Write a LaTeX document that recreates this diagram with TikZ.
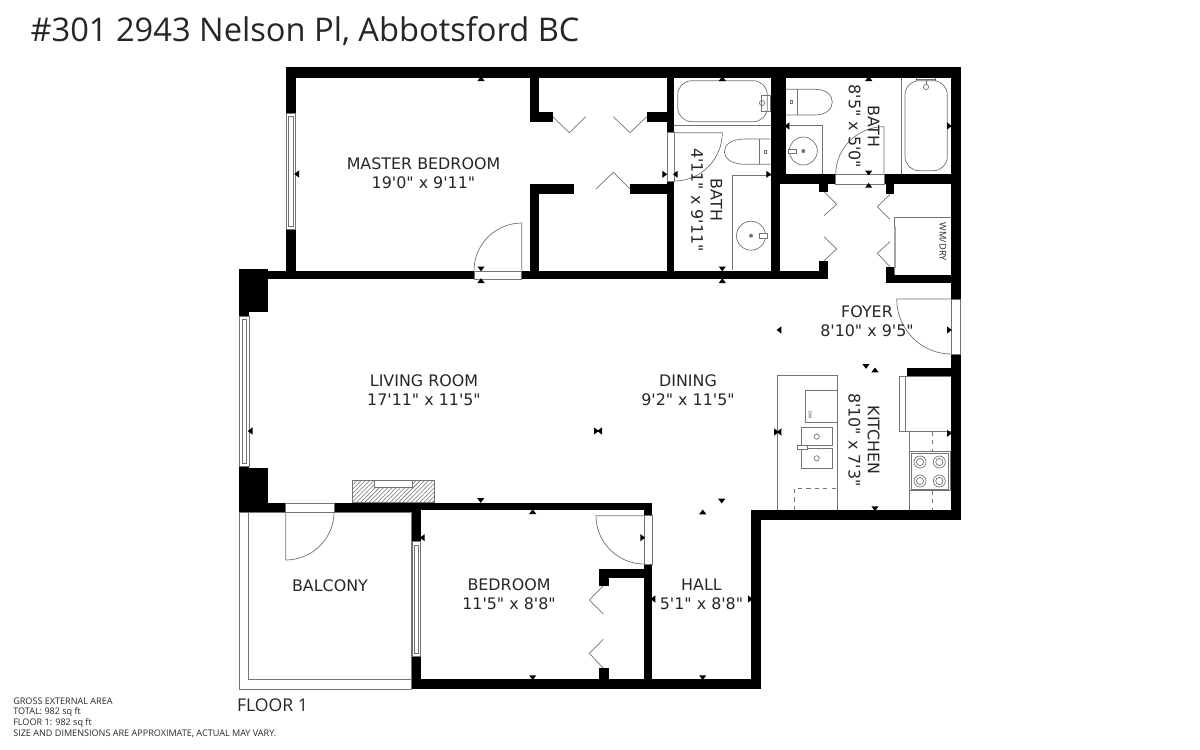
\documentclass[tikz,border=0pt]{standalone}
\usepackage{fontspec}
\usepackage{tikz}
\usetikzlibrary{patterns}
\setmainfont{Open Sans}
\newfontfamily\roomfont{DejaVu Sans}
\definecolor{fixgray}{gray}{0.45}
\tikzset{
  wall/.style={fill=black},
  fixture/.style={draw=fixgray,line width=.5pt},
  room/.style={font=\roomfont\fontsize{11.3}{13.6}\selectfont,align=center,text=black!85,inner sep=0pt},
  tinylabel/.style={font=\fontsize{6.45}{7.8}\selectfont,text=black!85,inner sep=0pt,anchor=west},
}
% small dimension mark: x, y, direction
\newcommand{\dimtick}[3]{\fill[black,shift={(#1,#2)},rotate=#3] (-3.6,-2) -- (3.6,-2) -- (0,2.8) -- cycle;}
\begin{document}
\begin{tikzpicture}[x=0.025cm,y=-0.025cm]
  \useasboundingbox (0,0) rectangle (1200,749);

  \node[font=\fontsize{23.2}{26}\selectfont,text=black!85,inner sep=0pt] (title) at (305,31) {\#301 2943 Nelson Pl, Abbotsford BC};

  % balcony
  \draw[fixture] (239.3,512) rectangle (411.7,689);
  \draw[fixture] (248.7,512) -- (248.7,679) -- (411.7,679);

  % fixtures first, walls go on top
  \begin{scope}[fixture]
    % upper bath, tub and toilet
    \draw[rounded corners=10pt] (677.7,80.7) rectangle (767.3,121.7);
    \draw (674.3,125) -- (770.7,125);
    \draw (761,95) rectangle (770.7,111);
    \draw (762,103) circle (2.6);
    \draw (770.7,139) -- (745,139) .. controls (731,139) and (724.3,145) .. (724.3,151.7) .. controls (724.3,158) and (731,164.3) .. (745,164.3) -- (770.7,164.3);
    \draw (759,139) -- (759,164.3);
    \draw (764,150) rectangle (766,153.4);
    \draw (770.7,175.7) -- (732.3,175.7) -- (732.3,270);
    \draw (751,235.7) circle (14.5);
    \fill[fixgray] (751,235.7) circle (2);
    \draw[fill=white] (759,233) rectangle (767,238);

    % right bath
    \draw (786,89.3) -- (815,89.3) .. controls (826,89.3) and (832.3,95) .. (832.3,102) .. controls (832.3,109) and (826,115) .. (815,115) -- (786,115);
    \draw (797.7,89.3) -- (797.7,115);
    \draw (790.7,100) rectangle (792.7,103.4);
    \draw (786,125) -- (822.3,125) -- (822.3,174.3);
    \draw (803.3,151) circle (14);
    \fill[fixgray] (803.3,151) circle (2);
    \draw[fill=white] (788,149) rectangle (796.7,153);
    \draw (901.7,77) -- (901.7,174.3);
    \draw[rounded corners=10pt] (905,80.7) rectangle (947.3,170.7);
    \draw (916.7,76) -- (916.7,80.7) (935.7,76) -- (935.7,80.7) (916.7,79) -- (935.7,79);
    \draw (926,79) -- (926,85);
    \draw (926,87) circle (2.6);

    % washer and dryer
    \draw (894,275) -- (894,217.3) -- (951,217.3);
    \draw[line width=1pt,gray!70] (895,226) -- (895,268);
    \node[font=\fontsize{6.6}{8}\selectfont,rotate=-90,inner sep=0pt,text=black!85] (wmdry) at (943,242) {WM/DRY};

    % kitchen
    \draw (777.7,510) -- (777.7,375) -- (837.7,375) -- (837.7,510);
    \draw (837.7,390) -- (805.7,390) -- (805.7,422.7) -- (837.7,422.7);
    \draw[line width=1pt] (837.7,390) -- (837.7,417);
    \node[font=\fontsize{3}{4}\selectfont,rotate=-90,inner sep=0pt,text=black!85] (dwlabel) at (810,415) {DW};
    \draw (801,427.3) rectangle (832,445.7);
    \draw (801,448.3) rectangle (832,468.3);
    \draw (816.7,436.7) circle (2.6);
    \draw (816.7,458.3) circle (2.6);
    \draw[fill=white] (797.3,445) rectangle (807.3,449.3);
    \draw[dashed] (794.3,510) -- (794.3,488.3) -- (837.7,488.3);
    \draw (899.3,376) rectangle (951,431.7);
    \draw (905,376) -- (905,431.7);
    \draw (909,431.7) -- (909,510);
    \draw[dashed] (932.3,431.7) -- (932.3,510);
    \draw[fill=white] (909.3,451.7) rectangle (950,490.7);
    \draw (911,453.4) rectangle (948.3,489);
    \draw (920,462) circle (6) (920,462) circle (3.6);
    \draw (939.3,462) circle (6) (939.3,462) circle (3.6);
    \draw (920,481) circle (6) (920,481) circle (3.6);
    \draw (939.3,481) circle (6) (939.3,481) circle (3.6);

    % fireplace
    \draw[pattern=north east lines,pattern color=fixgray] (352.3,480) rectangle (434.3,502.7);
    \draw[fill=white] (374.3,480) rectangle (412.7,487.3);

    % bifold doors
    \draw (552.7,116.7) -- (569.3,132.7) -- (585.7,116.7);
    \draw (613.3,116.7) -- (630,132.7) -- (646.7,116.7);
    \draw (596,189) -- (613.3,172.3) -- (630,189);
    \draw (824,191.7) -- (836.7,204.3) -- (824,215.7);
    \draw (824,236.7) -- (836.7,249) -- (824,260.7);
    \draw (890,194.3) -- (877.3,206.7) -- (890,219.3);
    \draw (890,241.7) -- (877.3,253.3) -- (890,266.7);
    \draw (603.3,585.7) -- (589.3,600) -- (603.3,614);
    \draw (603.3,639.3) -- (589.3,653.3) -- (603.3,668.3);

    % swing doors
    \draw (521.7,270.7) -- (521.7,223) .. controls (495.4,223) and (474,244.4) .. (474,270.7);
    \draw (674.3,132.7) -- (722.3,132.7) .. controls (722.3,159.2) and (700.8,181) .. (674.3,181);
    \draw (884,174.3) -- (884,126.7) .. controls (857.7,126.7) and (835.7,148) .. (835.7,174.3);
    \draw (951,299) -- (896.7,299) .. controls (896.7,329) and (921,354) .. (951,354);
    \draw (285.7,512.3) -- (285.7,560) .. controls (312,560) and (334,538.6) .. (334,512.3);
    \draw (644.3,515.7) -- (596,515.7) .. controls (596,542.4) and (617.6,564) .. (644.3,564);
  \end{scope}

  % walls
  \begin{scope}[wall]
    \fill (285.7,67.5) rectangle (960.7,77.5);
    \fill (285.7,67.5) rectangle (295.7,113);
    \fill (285.7,229) rectangle (295.7,271);
    \fill (239.3,270.7) rectangle (828.3,279);
    \fill (239.3,269.3) rectangle (267.7,312.3);
    \fill (239.3,312) rectangle (249,316);
    \fill (530,67.5) rectangle (539.3,121.7);
    \fill (530,111.7) rectangle (552.7,121.7);
    \fill (646.7,111.7) rectangle (674.3,121.7);
    \fill (666.7,67.5) rectangle (674.3,132.7);
    \fill (530,184.3) rectangle (574,194.3);
    \fill (530,184.3) rectangle (539.3,279);
    \fill (630,184.3) rectangle (674.3,194.3);
    \fill (666.7,181) rectangle (674.3,279);
    \fill (770.7,67.5) rectangle (786,174.3);
    \fill (770.7,174.3) rectangle (780,279);
    \fill (770.7,174.3) rectangle (835.7,184.3);
    \fill (819,184) rectangle (828.3,191.7);
    \fill (819,260.7) rectangle (828.3,279);
    \fill (884,174.3) rectangle (960.7,184.3);
    \fill (886,184) rectangle (894,194.3);
    \fill (886,267.3) rectangle (894,283);
    \fill (886,275) rectangle (960.7,283);
    \fill (951,67.5) rectangle (960.7,299);
    \fill (951,354) rectangle (960.7,520);
    \fill (906.7,368.3) rectangle (951,376);
    \fill (751,510) rectangle (960.7,520);
    \fill (751,510) rectangle (761,689);
    \fill (411.7,679) rectangle (761,689);
    \fill (239.3,466.7) rectangle (249,470);
    \fill (239.3,468) rectangle (267.7,512.3);
    \fill (239.3,502.7) rectangle (285.7,512.3);
    \fill (334,502.7) rectangle (421,510);
    \fill (334,510) rectangle (411.7,512.3);
    \fill (421,502.5) rectangle (652.3,510);
    \fill (644.3,502.5) rectangle (652.3,515.7);
    \fill (411.7,510) rectangle (421,541.7);
    \fill (411.7,656) rectangle (421,689);
    \fill (644.3,564) rectangle (652.3,689);
    \fill (599,569) rectangle (652.3,578.3);
    \fill (599,569) rectangle (609,585.7);
    \fill (599,668.3) rectangle (609,680);
  \end{scope}

  % windows and door openings
  \begin{scope}[fixture,fill=white]
    \filldraw (286,113) rectangle (295.7,229);
    \draw (288.5,116.7) rectangle (293.2,226);
    \filldraw (239.5,316) rectangle (249,466.7);
    \draw (242,319) rectangle (246.5,463.5);
    \filldraw (411.9,541.7) rectangle (420.8,656);
    \draw (414.4,545) rectangle (418.3,653);
    \filldraw (666.9,132.7) rectangle (674.1,181);
    \filldraw (474,271) rectangle (521.7,279);
    \filldraw (835.7,174.5) rectangle (884,184.1);
    \filldraw (951.2,299) rectangle (960.5,354);
    \filldraw (285.7,502.9) rectangle (334,512.1);
    \filldraw (644.5,515.7) rectangle (652.1,564);
  \end{scope}

  % labels
  \node[room] (master) at (423.5,173.5) {MASTER BEDROOM\\19'0" x 9'11"};
  \node[room,rotate=-90] (bathone) at (706.7,200) {BATH\\4'11" x 9'11"};
  \node[room,rotate=-90] (bathtwo) at (864,126.5) {BATH\\8'5" x 5'0"};
  \node[room] (foyer) at (867,321.5) {FOYER\\8'10" x 9'5"};
  \node[room,rotate=-90] (kitchen) at (864,440) {KITCHEN\\8'10" x 7'3"};
  \node[room] (living) at (424,390.5) {LIVING ROOM\\17'11" x 11'5"};
  \node[room] (dining) at (688,390.5) {DINING\\9'2" x 11'5"};
  \node[room] (balcony) at (330,586) {BALCONY};
  \node[room] (bedroom) at (509,594.5) {BEDROOM\\11'5" x 8'8"};
  \node[room] (hall) at (701.5,594.5) {HALL\\5'1" x 8'8"};
  \node[font=\fontsize{12.5}{14}\selectfont,text=black!85,inner sep=0pt] (floorname) at (272.5,705.5) {FLOOR 1};

  \node[tinylabel] (area) at (13,701) {GROSS EXTERNAL AREA};
  \node[tinylabel] (total) at (13,712) {TOTAL: 982 sq ft};
  \node[tinylabel] (floorarea) at (13,723) {FLOOR 1: 982 sq ft};
  \node[tinylabel] (note) at (13,734) {SIZE AND DIMENSIONS ARE APPROXIMATE, ACTUAL MAY VARY.};

  % dimension marks
  \dimtick{481}{79}{180}
  \dimtick{481}{268.5}{0}
  \dimtick{481}{281}{180}
  \dimtick{297}{174}{-90}
  \dimtick{722.3}{79}{180}
  \dimtick{722.3}{268.5}{0}
  \dimtick{722.3}{281}{180}
  \dimtick{664.3}{174.3}{90}
  \dimtick{675.7}{174.3}{-90}
  \dimtick{768.3}{174.3}{90}
  \dimtick{787.3}{126}{-90}
  \dimtick{868.7}{79}{180}
  \dimtick{868.7}{172.7}{0}
  \dimtick{868.7}{185.7}{180}
  \dimtick{949}{126}{90}
  \dimtick{779.3}{330}{-90}
  \dimtick{949}{330}{90}
  \dimtick{866}{366}{0}
  \dimtick{875}{370.3}{180}
  \dimtick{776}{432}{90}
  \dimtick{779.3}{432}{-90}
  \dimtick{949}{433.3}{90}
  \dimtick{875}{508.3}{0}
  \dimtick{250.5}{431}{-90}
  \dimtick{596}{431}{90}
  \dimtick{600}{431}{-90}
  \dimtick{480.7}{500}{0}
  \dimtick{422.7}{537.7}{-90}
  \dimtick{721.7}{500.7}{0}
  \dimtick{702.7}{512.3}{180}
  \dimtick{532.7}{512}{180}
  \dimtick{532.7}{677.3}{0}
  \dimtick{702.7}{677.3}{0}
  \dimtick{642.3}{537.7}{90}
  \dimtick{653.3}{599}{-90}
  \dimtick{750}{599}{90}
\end{tikzpicture}
\end{document}
